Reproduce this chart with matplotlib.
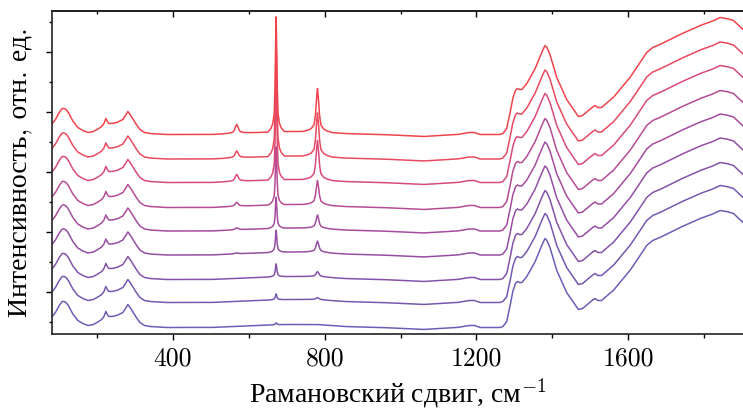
import numpy as np
import matplotlib
matplotlib.use('Agg')
import matplotlib.pyplot as plt
from matplotlib.ticker import MultipleLocator

plt.rcParams['font.family'] = ['cmr10', 'Liberation Serif']
plt.rcParams['mathtext.fontset'] = 'cm'
plt.rcParams['axes.unicode_minus'] = False

# base profile of the spectra, a.u. above baseline
base_w = [82, 90, 100, 108, 113, 118, 124, 135, 149, 162, 176, 190, 200, 212,
          218, 223, 227, 231, 240, 252, 268, 275, 281, 287, 295, 305, 313, 325,
          339, 380, 426, 500, 558, 620, 700, 780, 850, 950, 1060, 1150, 1180,
          1195, 1210, 1262, 1270, 1280, 1288, 1296, 1303, 1308, 1314, 1320,
          1333, 1355, 1370, 1377, 1381, 1386, 1394, 1412, 1438, 1469, 1480, 1496,
          1505, 1513, 1520, 1530, 1561, 1605, 1630, 1649, 1665, 1684, 1737,
          1790, 1820, 1843, 1860, 1878, 1895, 1903]
base_i = [11, 15, 22, 26, 26, 25, 22, 14, 7, 4, 2, 3, 5, 8,
          11, 16, 13, 11, 11, 12, 15, 19, 23, 20, 15, 9, 5, 2,
          1, 0, 0, 0, 1, 2, 3, 3, 1, 0, -2, 0, 2,
          2, 0, 0, 1, 6, 20, 36, 44, 46, 45, 45,
          51, 66, 80, 86, 89, 87, 80, 57, 35, 18, 19, 24,
          27, 29, 27, 27, 37, 57, 71, 82, 87, 90, 100,
          109, 113, 117, 116, 114, 108, 105]

# vertical offsets of the 9 spectra (bottom -> top)
offsets = [-35.5, -10.5, 12.5, 37, 61, 84.5, 109.5, 133, 157.5]

# heights of the sharp bands at 568, 672 and 781 cm-1
h568 = [0, 0, 0, 1, 2, 4, 7, 7, 9]
h672 = [2, 6, 13, 22, 31, 58, 100, 113, 115]
h781 = [0, 2, 5, 11, 13, 24, 39, 43, 43]

# band shape (relative)
band_dw = [-22, -14, -9, -5, -3, -1.5, 0, 1.5, 3, 5, 9, 14, 22]
band_rel = [0, 0.03, 0.07, 0.16, 0.38, 0.75, 1, 0.75, 0.38, 0.16, 0.07, 0.03, 0]

colors = ['#6a5fb8', '#7558b0', '#8552aa', '#954ea4', '#a54c9e',
          '#b64c96', '#d84b78', '#e84a60', '#f0444c']

xticks = [400, 800, 1200, 1600]
xtick_labels = ['400', '800', '1200', '1600']

w = np.arange(82, 1904, 1.0)
base = np.interp(w, base_w, base_i)
band_w = np.array(band_dw, dtype=float)

fig = plt.figure(figsize=(7.43, 4.09), dpi=100)
ax = fig.add_axes([0.070, 0.1834, 0.930, 0.7897])

for k in range(len(offsets)):
    y = base + offsets[k]
    y = y + h568[k] * np.interp(w, 568 + 2.0 * band_w, band_rel)
    y = y + h672[k] * np.interp(w, 672 + band_w, band_rel)
    y = y + h781[k] * np.interp(w, 781 + 1.8 * band_w, band_rel)
    ax.plot(w, y, color=colors[k], lw=1.1)

ax.set_xlim(81, 1903)
ax.set_ylim(-42, 281)

ax.set_xticks(xticks, xtick_labels, fontfamily='cmr10', fontsize=18.5)
ax.xaxis.set_minor_locator(MultipleLocator(200))
ax.yaxis.set_major_locator(MultipleLocator(60))
ax.yaxis.set_minor_locator(MultipleLocator(30))
ax.set_yticklabels([])
ax.tick_params(axis='x', which='major', direction='out', length=4.5, width=1, pad=5)
ax.tick_params(axis='x', which='minor', direction='out', length=3, width=1)
ax.tick_params(axis='y', which='major', direction='out', length=4, width=1)
ax.tick_params(axis='y', which='minor', direction='out', length=2, width=1)

top = ax.secondary_xaxis('top')
top.xaxis.set_major_locator(MultipleLocator(400))
top.xaxis.set_minor_locator(MultipleLocator(200))
top.tick_params(axis='x', which='major', direction='in', length=4, width=1, labeltop=False)
top.tick_params(axis='x', which='minor', direction='in', length=2.5, width=1)
top.spines['top'].set_linewidth(1.2)

ax.spines['right'].set_visible(False)
for s in ['left', 'bottom', 'top']:
    ax.spines[s].set_linewidth(1.2)
    ax.spines[s].set_color('#222222')

ax.set_xlabel('Рамановский сдвиг, см$^{\\mathrm{-1}}$', fontsize=20,
              family='Liberation Serif', labelpad=4)
ax.set_ylabel('Интенсивность, отн. ед.', fontsize=20, labelpad=7)

fig.savefig('out.png', dpi=100)
